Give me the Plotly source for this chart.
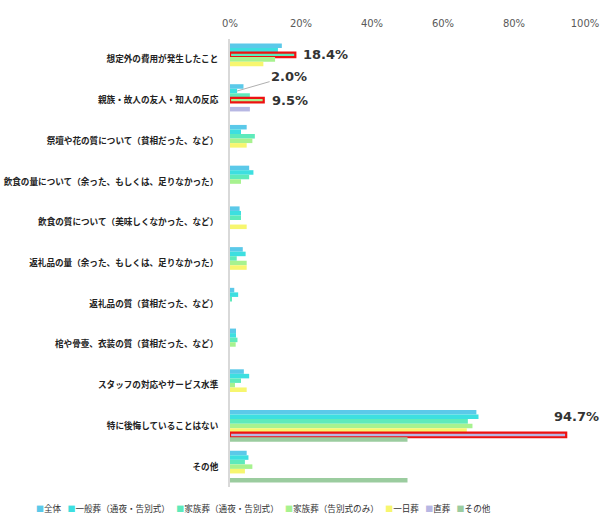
import plotly.graph_objects as go

categories = [
    "想定外の費用が発生したこと",
    "親族・故人の友人・知人の反応",
    "祭壇や花の質について（貧相だった、など）",
    "飲食の量について（余った、もしくは、足りなかった）",
    "飲食の質について（美味しくなかった、など）",
    "返礼品の量（余った、もしくは、足りなかった）",
    "返礼品の質（貧相だった、など）",
    "棺や骨壺、衣装の質（貧相だった、など）",
    "スタッフの対応やサービス水準",
    "特に後悔していることはない",
    "その他",
]

series_names = [
    "全体",
    "一般葬（通夜・告別式）",
    "家族葬（通夜・告別式）",
    "家族葬（告別式のみ）",
    "一日葬",
    "直葬",
    "その他",
]

zentai      = [14.6, 3.8, 4.7, 5.4, 2.7, 3.6, 1.2, 1.7, 3.9, 69.4, 4.7]
ippan       = [13.5, 2.0, 3.1, 6.6, 3.1, 4.4, 2.3, 1.7, 5.4, 70.0, 5.2]
kazoku_tsuya = [18.4, 5.6, 7.0, 5.4, 3.1, 1.9, 0.4, 2.1, 3.1, 67.0, 4.2]
kazoku_kokubetsu = [12.7, 9.5, 6.3, 3.1, 0.0, 4.7, 0.0, 1.6, 1.4, 68.3, 6.3]
ichinichi   = [9.4, 0.0, 4.7, 0.0, 4.7, 4.7, 0.0, 0.0, 4.7, 66.7, 4.2]
chokuso     = [0.0, 5.6, 0.0, 0.0, 0.0, 0.0, 0.0, 0.0, 0.0, 94.7, 0.0]
sonota      = [0.0, 0.0, 0.0, 0.0, 0.0, 0.0, 0.0, 0.0, 0.0, 50.0, 50.0]

series_values = [zentai, ippan, kazoku_tsuya, kazoku_kokubetsu, ichinichi, chokuso, sonota]
colors = ["#5bc9e9", "#3ddfe0", "#5eeabb", "#a7f28f", "#f7f66f", "#b7b7e3", "#9bcc9f"]

# highlighted bars: (category index, series index)
highlights = [(0, 2), (1, 3), (9, 5)]
# label with leader line: (category index, series index)
leader_labels = [(1, 1)]

x_ticks = [0, 20, 40, 60, 80, 100]
x_ticktext = ["0%", "20%", "40%", "60%", "80%", "100%"]

BARGAP = 0.22
n_series = len(series_names)
bar_w = (1 - BARGAP) / n_series


def bar_pos(ci, si):
    return ci - (1 - BARGAP) / 2 + bar_w * (si + 0.5)


fig = go.Figure()
for si, (name, vals, col) in enumerate(zip(series_names, series_values, colors)):
    lw = [2.2 if (ci, si) in highlights else 0 for ci in range(len(categories))]
    fig.add_trace(go.Bar(
        y=list(range(len(categories))),
        x=vals,
        name=name,
        orientation="h",
        showlegend=False,
        marker=dict(color=col, line=dict(color="#ee1111", width=lw)),
    ))

label_font = dict(family="DejaVu Sans", size=13, color="#333333")
for ci, si in highlights:
    v = series_values[si][ci]
    y = bar_pos(ci, si)
    if v > 90:
        fig.add_annotation(x=v, y=y, xref="x", yref="y", text=f"<b>{v:.1f}%</b>",
                           showarrow=False, xanchor="center", yanchor="bottom",
                           xshift=10, yshift=9, font=label_font)
    else:
        fig.add_annotation(x=v, y=y, xref="x", yref="y", text=f"<b>{v:.1f}%</b>",
                           showarrow=False, xanchor="left", yanchor="middle",
                           xshift=6, font=label_font)

for ci, si in leader_labels:
    v = series_values[si][ci]
    fig.add_annotation(x=v, y=bar_pos(ci, si), xref="x", yref="y",
                       text=f"<b>{v:.1f}%</b>", showarrow=True, arrowhead=0,
                       arrowwidth=1, arrowcolor="#b0b0b0", ax=52, ay=-15,
                       font=label_font)

# legend drawn as one line of text
legend_parts = [
    f"<span style='color:{c};font-size:8px'>■</span>{n}"
    for n, c in zip(series_names, colors)
]
fig.add_annotation(x=0.093, y=0, xref="paper", yref="paper", xanchor="center",
                   yanchor="middle", yshift=-21, showarrow=False,
                   text="\u2002 ".join(legend_parts),
                   font=dict(family="Noto Sans CJK JP", size=8.6, color="#333333"))

fig.update_layout(
    width=600, height=520,
    margin=dict(l=230, r=15, t=39, b=33),
    barmode="group", bargap=BARGAP, bargroupgap=0,
    plot_bgcolor="white", paper_bgcolor="white",
    font=dict(family="Noto Sans CJK JP", color="#222222"),
    xaxis=dict(side="top", range=[0, 100], tickvals=x_ticks, ticktext=x_ticktext,
               showgrid=False, zeroline=False, showline=False, automargin=False,
               tickfont=dict(family="DejaVu Sans", size=10, color="#595959"),
               ticklabelstandoff=9, fixedrange=True),
    yaxis=dict(tickvals=list(range(len(categories))),
               ticktext=[f"<b>{c}</b>" for c in categories],
               range=[len(categories) - 0.5, -0.5], automargin=False,
               showgrid=False, zeroline=False, showline=True, linecolor="#d9d9d9",
               linewidth=2, tickfont=dict(family="Noto Sans CJK JP", size=8.6, color="#222222"),
               ticklabelstandoff=8),
    showlegend=False,
)

fig.write_html("out.html")
